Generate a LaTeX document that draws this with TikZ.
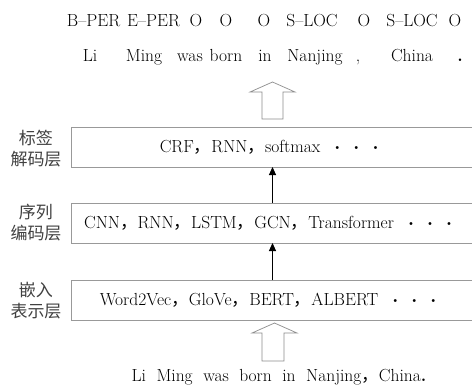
\documentclass[tikz,border=0pt]{standalone}
\usepackage{fontspec}
\newfontfamily\cjk{Noto Sans CJK SC}
\usetikzlibrary{arrows.meta}
\newcommand{\fw}[1]{{\cjk #1}}
\newcommand{\bdots}{\hspace{0.7em}\raisebox{0.12ex}{\scalebox{0.75}{\textbullet}}\hspace{0.55em}\raisebox{0.12ex}{\scalebox{0.75}{\textbullet}}\hspace{0.55em}\raisebox{0.12ex}{\scalebox{0.75}{\textbullet}}}
\tikzset{
  tok/.style={inner sep=0pt, anchor=center, font=\fontsize{17.5}{20}\selectfont},
  layerbox/.style={draw=black!40, line width=0.8pt, fill=white},
  boxtext/.style={inner sep=0pt, font=\fontsize{17.5}{20}\selectfont},
  lbl/.style={inner sep=0pt, align=center, font=\cjk\fontsize{17}{21}\selectfont, text=black!75},
  hollow/.style={draw=black!45, line width=0.7pt, fill=white},
  conn/.style={-{Triangle[length=8pt,width=7pt]}, line width=0.9pt, black}
}
\begin{document}
\begin{tikzpicture}[x=1pt,y=-1pt]
\useasboundingbox (0,0) rectangle (472,384);
% tags
\foreach \t/\x in {B--PER/93.5, E--PER/153.5, O/196, O/226, O/264, S--LOC/312, O/364, S--LOC/412, O/455}
  \node[tok] at (\x,21) {\t};
% words
\foreach \t/\x in {Li/90, Ming/144, was/190, born/226, in/265, Nanjing/315, China/412}
  \node[tok] at (\x,57) {\strut\t};
\node[tok] at (358,57) {\strut,};
\node[tok] at (460,57) {\strut\textbf{.}};
% top hollow arrow
\draw[hollow] (262,119) -- (262,92) -- (250,92) -- (272.5,82) -- (295,92) -- (283,92) -- (283,119) -- cycle;
% boxes
\draw[layerbox] (71,127) rectangle (476,167);
\draw[layerbox] (71,203) rectangle (476,243);
\draw[layerbox] (71,280) rectangle (476,320);
\node[boxtext] (b1) at (270,147) {CRF\fw{，}RNN\fw{，}softmax\bdots};
\node[boxtext] (b2) at (269,223) {CNN\fw{，}RNN\fw{，}LSTM\fw{，}GCN\fw{，}Transformer\bdots};
\node[boxtext] (b3) at (269,300) {Word2Vec\fw{，}GloVe\fw{，}BERT\fw{，}ALBERT\bdots};
\node[lbl] (l1) at (36,149) {标签\\解码层};
\node[lbl] (l2) at (36,222.5) {序列\\编码层};
\node[lbl] (l3) at (36,301) {嵌入\\表示层};
\coordinate (a1s) at (272.5,203);
\coordinate (a1e) at (272.5,167);
\coordinate (a2s) at (272.5,280);
\coordinate (a2e) at (272.5,243);
\draw[conn] (a1s) -- (a1e);
\draw[conn] (a2s) -- (a2e);
% bottom hollow arrow
\draw[hollow] (262,361) -- (262,333) -- (252,333) -- (274.5,323) -- (297,333) -- (284,333) -- (284,361) -- cycle;
\node[tok] (sent) at (279,377) {\spaceskip=10.5pt plus 2pt Li Ming was born in Nanjing\fw{，}China\textbf{.}};
\end{tikzpicture}
\end{document}
